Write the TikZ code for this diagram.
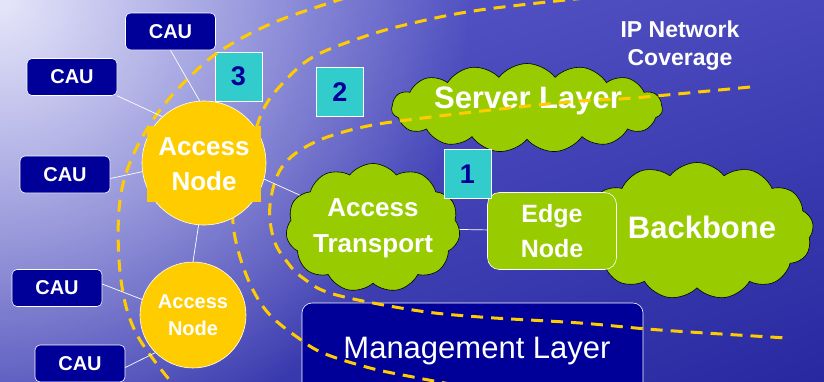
\documentclass[tikz,border=0pt]{standalone}
\usepackage{fontspec}
\setmainfont{Liberation Sans}
\usetikzlibrary{shapes.symbols,fadings,shadings}

\definecolor{cauBlue}{RGB}{0,0,153}
\definecolor{nodeYellow}{RGB}{255,204,0}
\definecolor{cloudGreen}{RGB}{153,204,0}
\definecolor{stageCyan}{RGB}{51,204,204}
\definecolor{bgLight}{RGB}{230,230,250}
\definecolor{bgUL}{RGB}{92,92,202}
\definecolor{bgUR}{RGB}{72,72,188}
\definecolor{bgLL}{RGB}{66,66,182}
\definecolor{bgLR}{RGB}{40,40,160}

\tikzfading[name=cornerGlow, inner color=transparent!0, outer color=transparent!100]

\tikzset{
	cauBox/.style={
		rectangle,
		rounded corners=5pt,
		draw=white,
		line width=0.6pt,
		fill=cauBlue,
		text=white,
		font=\fontsize{20}{24}\selectfont\bfseries,
		minimum width=90pt,
		minimum height=37pt
	},
	accessNode/.style={
		circle,
		draw=white,
		line width=0.6pt,
		fill=nodeYellow,
		text=white,
		align=center,
		inner sep=0pt
	},
	greenCloud/.style={
		cloud,
		cloud ignores aspect,
		cloud puff arc=105,
		draw=black,
		line width=0.6pt,
		fill=cloudGreen,
		text=white,
		align=center,
		inner sep=0pt
	},
	nodeText/.style={
		text=white,
		align=center,
		inner sep=0pt
	},
	stageSquare/.style={
		rectangle,
		draw=white,
		line width=0.8pt,
		fill=stageCyan,
		text=cauBlue,
		font=\fontsize{27}{30}\selectfont\bfseries,
		minimum width=47pt,
		minimum height=49pt,
		inner sep=0pt
	},
	coverageLine/.style={
		draw=nodeYellow,
		line width=3pt,
		dash pattern=on 12pt off 8pt
	},
}

\begin{document}
\begin{tikzpicture}[x=1pt, y=-1pt]
\tikzset{linkLine/.style={draw=white, line width=0.7pt}}
\tikzset{edgeBox/.style={rectangle, rounded corners=12pt, draw=white, line width=0.6pt, fill=cloudGreen, text=white, align=center, font=\fontsize{25}{35}\selectfont\bfseries, minimum width=129pt, minimum height=77pt}}
\tikzset{mgmtBox/.style={rectangle, rounded corners=10pt, draw=white, line width=0.6pt, fill=cauBlue, minimum width=341pt, minimum height=92pt}}

\clip (0,0) rectangle (824,381);
\shade[upper left=bgUL, upper right=bgUR, lower left=bgLL, lower right=bgLR] (0,0) rectangle (824,381);
\fill[bgLight, path fading=cornerGlow] (0,0) circle (470);

\node[greenCloud, cloud puffs=13, minimum width=233pt, minimum height=137pt] (backbone) at (697,231) {};
\node[nodeText, font=\fontsize{31}{36}\selectfont\bfseries, anchor=base] (backboneText) at (702,238) {Backbone};
\node[edgeBox] (edgeNode) at (552,231) {Edge\\Node};
\node[greenCloud, cloud puffs=15, minimum width=271pt, minimum height=89pt] (serverLayer) at (527,108) {};
\node[nodeText, font=\fontsize{31}{36}\selectfont\bfseries, anchor=base] (serverText) at (528,108) {Server Layer};
\node[greenCloud, cloud puffs=11, minimum width=163pt, minimum height=129pt, font=\fontsize{26}{36}\selectfont\bfseries] (accessT) at (373,228) {Access\\Transport};

\node[mgmtBox] (mgmtLayer) at (472.5,349) {};
\node[nodeText, font=\fontsize{31}{36}\selectfont, anchor=base] (mgmtText) at (477,358) {Management Layer};

\node[stageSquare] (stageThree) at (238.5,76.5) {3};
\node[stageSquare] (stageTwo) at (340,92) {2};
\node[stageSquare] (stageOne) at (467.5,174) {1};

\draw[coverageLine] plot[smooth, tension=0.6] coordinates {(345,-2) (280,20) (233,43) (200,67) (160,110) (131,160) (119,210) (121,280) (136,333) (172,383)};
\draw[coverageLine] plot[smooth, tension=0.6] coordinates {(585,-2) (480,10) (413,23) (363,37) (313,57) (283,83) (263,110) (250,150) (236,195) (233,223) (240,257) (253,290) (270,315) (297,337) (323,353) (370,368) (413,377) (450,384)};
\draw[coverageLine] plot[smooth, tension=0.6] coordinates {(750,87) (633,98) (580,101) (500,109) (423,118) (363,127) (313,143) (282,167) (270,205) (274,240) (288,263) (303,278) (333,294) (413,310) (480,317) (580,323) (660,330) (787,338)};

\node[accessNode, minimum size=124pt] (accessA) at (204,163) {};
\node[nodeText, fill=nodeYellow, minimum width=114pt, minimum height=76pt, font=\fontsize{26}{35}\selectfont\bfseries] (accessALabel) at (204,164) {Access\\Node};
\node[accessNode, minimum size=106pt, font=\fontsize{20}{27}\selectfont\bfseries] (accessB) at (193,315) {Access\\Node};

\node[cauBox] (cau1) at (170.5,31.5) {CAU};
\node[cauBox] (cau2) at (72,77) {CAU};
\node[cauBox] (cau3) at (65,174.5) {CAU};
\node[cauBox] (cau4) at (57,288) {CAU};
\node[cauBox] (cau5) at (80,363.5) {CAU};

\draw[linkLine] (cau1.south) -- (accessA.94);
\draw[linkLine] (cau2.south east) -- (accessA.132);
\draw[linkLine] (cau3.-5) -- (accessA.188);
\draw[linkLine] (accessA.265) -- (accessB.north);
\draw[linkLine] (cau4.5) -- (accessB.163);
\draw[linkLine] (cau5.-5) -- (accessB.225);
\draw[linkLine] (accessA.-15) -- (accessT);
\draw[linkLine] (accessT) -- (edgeNode);

\node[nodeText, font=\fontsize{23}{28}\selectfont\bfseries] (coverageText) at (680,46) {IP Network\\Coverage};
\end{tikzpicture}
\end{document}
